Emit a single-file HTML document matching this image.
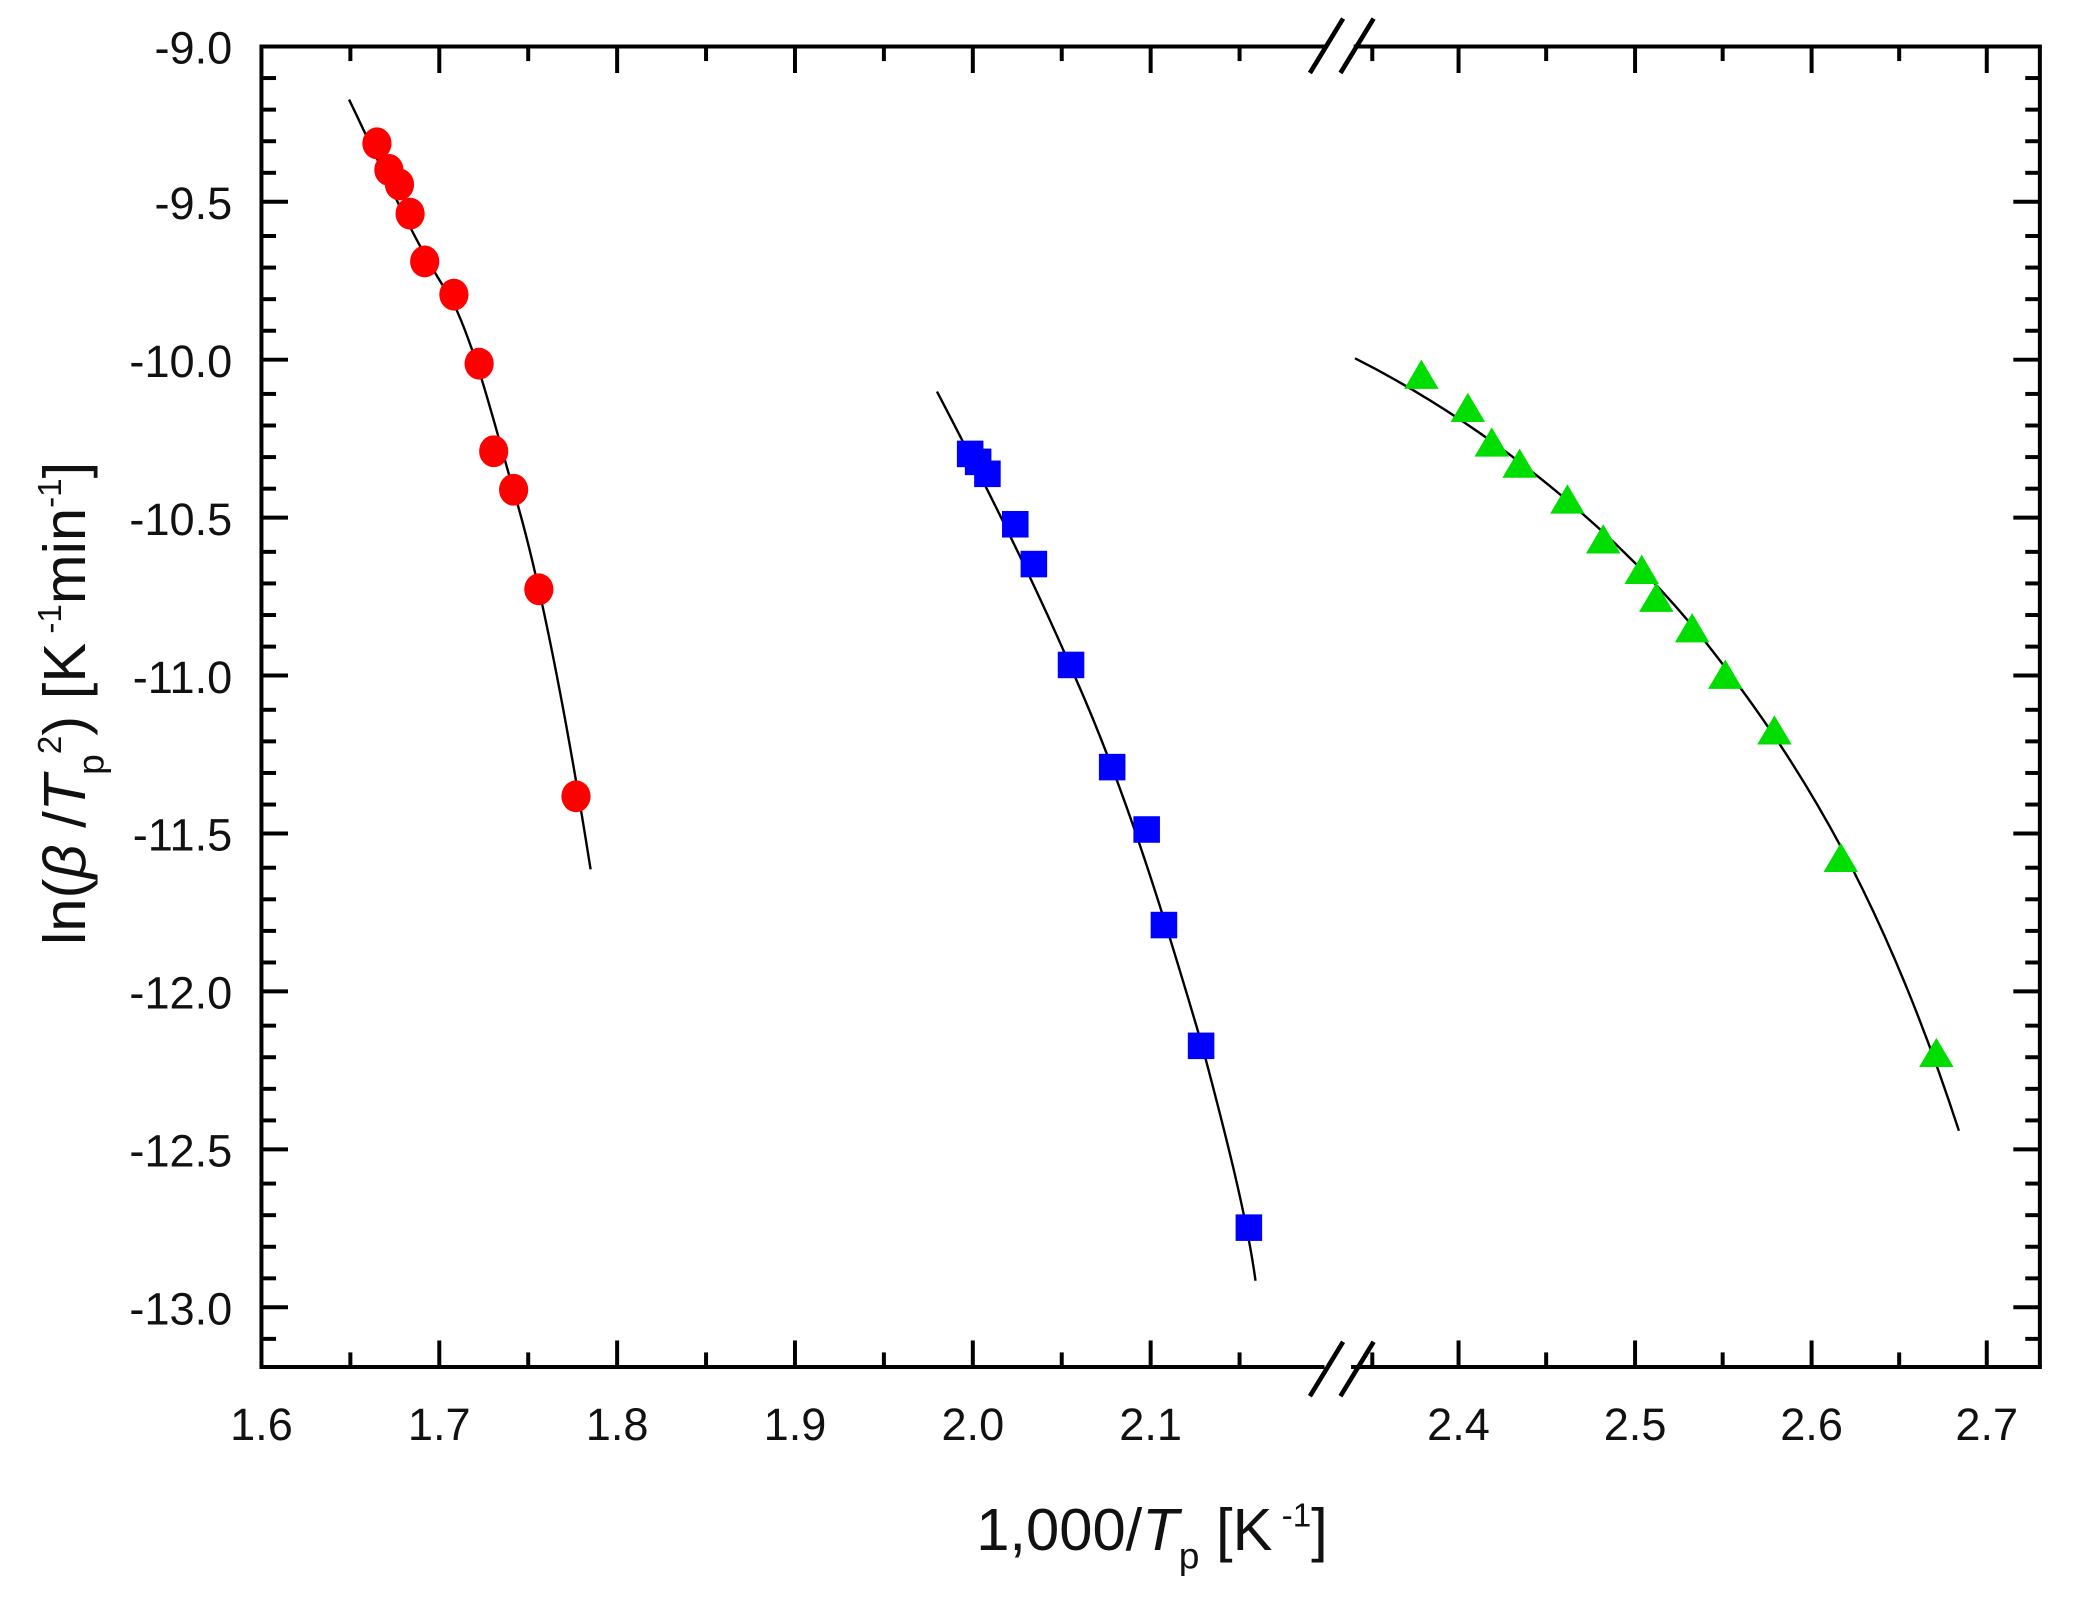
<!DOCTYPE html>
<html><head><meta charset="utf-8"><style>
html,body{margin:0;padding:0;background:#fff;}
svg{display:block;}
text{font-family:"Liberation Sans",Arial,sans-serif;fill:#111;}
</style></head><body>
<svg width="2081" height="1601" viewBox="0 0 1568 1206.3" xmlns="http://www.w3.org/2000/svg">
<rect width="1568" height="1206.3" fill="#fff"/>
<g stroke="#000" stroke-width="3" fill="none">
<line x1="197" y1="35" x2="197" y2="1030"/>
<line x1="1537" y1="35" x2="1537" y2="1030"/>
<line x1="195.5" y1="35" x2="1538.5" y2="35"/>
<line x1="195.5" y1="1030" x2="1538.5" y2="1030"/>
</g>
<g stroke="#000" stroke-width="3">
<line x1="197" y1="152" x2="217" y2="152"/><line x1="197" y1="271" x2="217" y2="271"/><line x1="197" y1="390" x2="217" y2="390"/><line x1="197" y1="509" x2="217" y2="509"/><line x1="197" y1="628" x2="217" y2="628"/><line x1="197" y1="747" x2="217" y2="747"/><line x1="197" y1="866" x2="217" y2="866"/><line x1="197" y1="985" x2="217" y2="985"/>
<line x1="1537" y1="152" x2="1517" y2="152"/><line x1="1537" y1="271" x2="1517" y2="271"/><line x1="1537" y1="390" x2="1517" y2="390"/><line x1="1537" y1="509" x2="1517" y2="509"/><line x1="1537" y1="628" x2="1517" y2="628"/><line x1="1537" y1="747" x2="1517" y2="747"/><line x1="1537" y1="866" x2="1517" y2="866"/><line x1="1537" y1="985" x2="1517" y2="985"/>
<line x1="331" y1="1030" x2="331" y2="1010"/><line x1="465" y1="1030" x2="465" y2="1010"/><line x1="599" y1="1030" x2="599" y2="1010"/><line x1="733" y1="1030" x2="733" y2="1010"/><line x1="867" y1="1030" x2="867" y2="1010"/>
<line x1="1099" y1="1030" x2="1099" y2="1010"/><line x1="1232" y1="1030" x2="1232" y2="1010"/><line x1="1365" y1="1030" x2="1365" y2="1010"/><line x1="1497" y1="1030" x2="1497" y2="1010"/>
<line x1="331" y1="35" x2="331" y2="55"/><line x1="465" y1="35" x2="465" y2="55"/><line x1="599" y1="35" x2="599" y2="55"/><line x1="733" y1="35" x2="733" y2="55"/><line x1="867" y1="35" x2="867" y2="55"/>
<line x1="1099" y1="35" x2="1099" y2="55"/><line x1="1232" y1="35" x2="1232" y2="55"/><line x1="1365" y1="35" x2="1365" y2="55"/><line x1="1497" y1="35" x2="1497" y2="55"/>
</g>
<g stroke="#000" stroke-width="3" id="minor">
<line x1="197" y1="58.8" x2="208" y2="58.8"/><line x1="197" y1="82.6" x2="208" y2="82.6"/><line x1="197" y1="106.4" x2="208" y2="106.4"/><line x1="197" y1="130.2" x2="208" y2="130.2"/>
<line x1="197" y1="177.8" x2="208" y2="177.8"/><line x1="197" y1="201.6" x2="208" y2="201.6"/><line x1="197" y1="225.4" x2="208" y2="225.4"/><line x1="197" y1="249.2" x2="208" y2="249.2"/>
<line x1="197" y1="296.8" x2="208" y2="296.8"/><line x1="197" y1="320.6" x2="208" y2="320.6"/><line x1="197" y1="344.4" x2="208" y2="344.4"/><line x1="197" y1="368.2" x2="208" y2="368.2"/>
<line x1="197" y1="415.8" x2="208" y2="415.8"/><line x1="197" y1="439.6" x2="208" y2="439.6"/><line x1="197" y1="463.4" x2="208" y2="463.4"/><line x1="197" y1="487.2" x2="208" y2="487.2"/>
<line x1="197" y1="534.8" x2="208" y2="534.8"/><line x1="197" y1="558.6" x2="208" y2="558.6"/><line x1="197" y1="582.4" x2="208" y2="582.4"/><line x1="197" y1="606.2" x2="208" y2="606.2"/>
<line x1="197" y1="653.8" x2="208" y2="653.8"/><line x1="197" y1="677.6" x2="208" y2="677.6"/><line x1="197" y1="701.4" x2="208" y2="701.4"/><line x1="197" y1="725.2" x2="208" y2="725.2"/>
<line x1="197" y1="772.8" x2="208" y2="772.8"/><line x1="197" y1="796.6" x2="208" y2="796.6"/><line x1="197" y1="820.4" x2="208" y2="820.4"/><line x1="197" y1="844.2" x2="208" y2="844.2"/>
<line x1="197" y1="891.8" x2="208" y2="891.8"/><line x1="197" y1="915.6" x2="208" y2="915.6"/><line x1="197" y1="939.4" x2="208" y2="939.4"/><line x1="197" y1="963.2" x2="208" y2="963.2"/>
<line x1="197" y1="1008.8" x2="208" y2="1008.8"/>
</g>
<use href="#minor" transform="translate(1734,0) scale(-1,1)"/>
<g stroke="#000" stroke-width="3">
<line x1="264" y1="1030" x2="264" y2="1019"/><line x1="398" y1="1030" x2="398" y2="1019"/><line x1="532" y1="1030" x2="532" y2="1019"/><line x1="666" y1="1030" x2="666" y2="1019"/><line x1="800" y1="1030" x2="800" y2="1019"/><line x1="934" y1="1030" x2="934" y2="1019"/>
<line x1="1034" y1="1030" x2="1034" y2="1019"/><line x1="1165" y1="1030" x2="1165" y2="1019"/><line x1="1298" y1="1030" x2="1298" y2="1019"/><line x1="1431" y1="1030" x2="1431" y2="1019"/>
<line x1="264" y1="35" x2="264" y2="46"/><line x1="398" y1="35" x2="398" y2="46"/><line x1="532" y1="35" x2="532" y2="46"/><line x1="666" y1="35" x2="666" y2="46"/><line x1="800" y1="35" x2="800" y2="46"/><line x1="934" y1="35" x2="934" y2="46"/>
<line x1="1034" y1="35" x2="1034" y2="46"/><line x1="1165" y1="35" x2="1165" y2="46"/><line x1="1298" y1="35" x2="1298" y2="46"/><line x1="1431" y1="35" x2="1431" y2="46"/>
</g>
<g stroke="#fff" stroke-width="8"><line x1="1000" y1="35" x2="1020" y2="35"/><line x1="998" y1="1030" x2="1018" y2="1030"/></g>
<g stroke="#000" stroke-width="3.5">
<line x1="987" y1="55" x2="1012" y2="14"/><line x1="1010" y1="55" x2="1035" y2="14"/>
<line x1="987" y1="1052" x2="1012" y2="1011"/><line x1="1010" y1="1052" x2="1035" y2="1011"/>
</g>
<g font-size="34" text-anchor="end">
<text x="175" y="48">-9.0</text><text x="175" y="165">-9.5</text><text x="175" y="284">-10.0</text><text x="175" y="403">-10.5</text><text x="175" y="522">-11.0</text><text x="175" y="641">-11.5</text><text x="175" y="760">-12.0</text><text x="175" y="879">-12.5</text><text x="175" y="998">-13.0</text>
</g>
<g font-size="34" text-anchor="middle">
<text x="197" y="1085">1.6</text><text x="331" y="1085">1.7</text><text x="465" y="1085">1.8</text><text x="599" y="1085">1.9</text><text x="733" y="1085">2.0</text><text x="867" y="1085">2.1</text>
<text x="1099" y="1085">2.4</text><text x="1232" y="1085">2.5</text><text x="1365" y="1085">2.6</text><text x="1497" y="1085">2.7</text>
</g>
<text x="868" y="1168" font-size="45" text-anchor="middle">1,000/<tspan font-style="italic">T</tspan><tspan font-size="28" dy="14">p</tspan><tspan dy="-14"> [K</tspan><tspan font-size="25" dy="-18"> -1</tspan><tspan dy="18">]</tspan></text>
<text transform="translate(64,530) rotate(-90)" font-size="45" text-anchor="middle">ln(<tspan font-style="italic">β</tspan> /<tspan font-style="italic">T</tspan><tspan font-size="28" dy="14">p</tspan><tspan font-size="25" dy="-32">2</tspan><tspan dy="18">) [K</tspan><tspan font-size="25" dy="-18"> -1</tspan><tspan dy="18">min</tspan><tspan font-size="25" dy="-18">-1</tspan><tspan dy="18">]</tspan></text>
<g fill="none" stroke="#000" stroke-width="1.8">
<path d="M263,75 C285,120 310,180 340,225 C360,265 375,330 390,380 C410,450 430,560 445,655"/>
<path d="M706,295 C740,360 780,440 810,510 C850,600 880,700 905,785 C925,860 940,920 946,965"/>
<path d="M1021,270 C1120,320 1220,400 1290,490 C1360,580 1420,680 1476,852"/>
</g>
<g fill="#ff0000">
<ellipse cx="284" cy="108" rx="11" ry="12"/><ellipse cx="293" cy="128" rx="11" ry="12"/><ellipse cx="301" cy="139" rx="11" ry="12"/><ellipse cx="309" cy="161" rx="11" ry="12"/><ellipse cx="320" cy="197" rx="11" ry="12"/><ellipse cx="342" cy="222" rx="11" ry="12"/><ellipse cx="361" cy="274" rx="11" ry="12"/><ellipse cx="372" cy="340" rx="11" ry="12"/><ellipse cx="387" cy="369" rx="11" ry="12"/><ellipse cx="406" cy="444" rx="11" ry="12"/><ellipse cx="434" cy="600" rx="11" ry="12"/>
</g>
<g fill="#0000ff">
<rect x="721" y="332" width="20" height="20"/><rect x="727" y="338" width="20" height="20"/><rect x="734" y="347" width="20" height="20"/><rect x="755" y="385" width="20" height="20"/><rect x="769" y="415" width="20" height="20"/><rect x="797" y="491" width="20" height="20"/><rect x="828" y="568" width="20" height="20"/><rect x="854" y="615" width="20" height="20"/><rect x="867" y="687" width="20" height="20"/><rect x="895" y="778" width="20" height="20"/><rect x="931" y="915" width="20" height="20"/>
</g>
<g fill="#00dd00">
<path d="M1071,271 l13,22 h-26z"/><path d="M1106,296 l13,22 h-26z"/><path d="M1124,322 l13,22 h-26z"/><path d="M1145,338 l13,22 h-26z"/><path d="M1181,365 l13,22 h-26z"/><path d="M1208,395 l13,22 h-26z"/><path d="M1237,418 l13,22 h-26z"/><path d="M1248,439 l13,22 h-26z"/><path d="M1275,462 l13,22 h-26z"/><path d="M1300,497 l13,22 h-26z"/><path d="M1337,539 l13,22 h-26z"/><path d="M1387,635 l13,22 h-26z"/><path d="M1459,782 l13,22 h-26z"/>
</g>
</svg>
</body></html>
